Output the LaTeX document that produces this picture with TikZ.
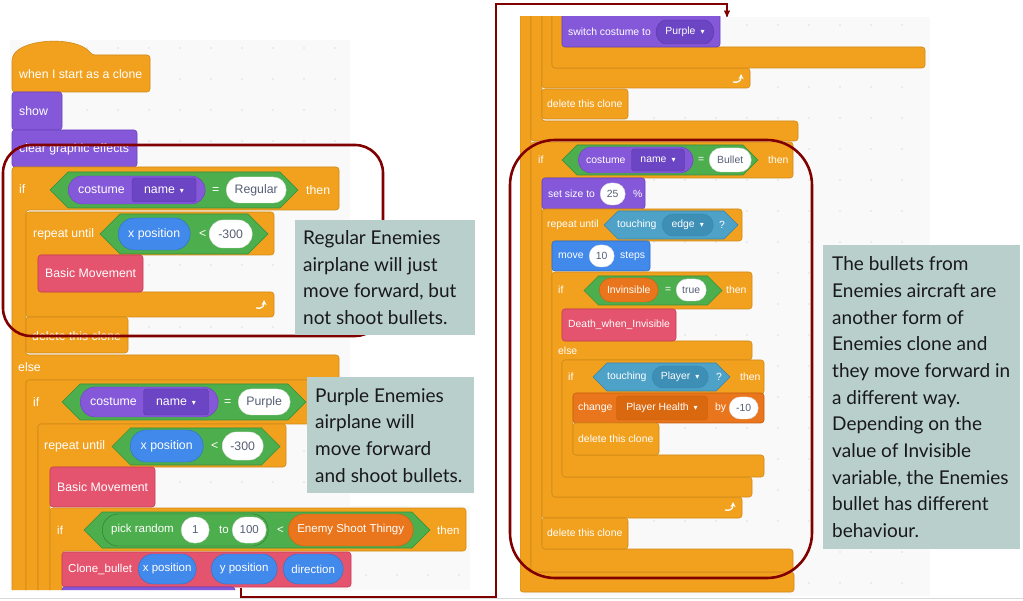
\documentclass[tikz,border=0pt]{standalone}
\usepackage{fontspec}
\setmainfont{Liberation Sans}
\newfontfamily\notefont{Lato}
\newfontfamily\symfont{DejaVu Sans}
\usetikzlibrary{positioning,shapes.misc,arrows}

\definecolor{ctrlFill}{HTML}{F2A11F}
\definecolor{ctrlEdge}{HTML}{CF8A17}
\definecolor{looksFill}{HTML}{8558DA}
\definecolor{looksEdge}{HTML}{6A42BD}
\definecolor{looksDark}{HTML}{6B45C4}
\definecolor{opFill}{HTML}{4DAE4D}
\definecolor{opEdge}{HTML}{389038}
\definecolor{motionFill}{HTML}{4189EB}
\definecolor{motionEdge}{HTML}{2F6DC6}
\definecolor{senseFill}{HTML}{4EA2C8}
\definecolor{senseEdge}{HTML}{3587AC}
\definecolor{senseDark}{HTML}{3D8FB6}
\definecolor{myFill}{HTML}{E5546F}
\definecolor{myEdge}{HTML}{C63C58}
\definecolor{varFill}{HTML}{E9761C}
\definecolor{varEdge}{HTML}{C65F12}
\definecolor{varDark}{HTML}{D9680F}
\definecolor{inkGray}{HTML}{575E75}
\definecolor{panelBg}{HTML}{F9F9F9}
\definecolor{noteFill}{HTML}{B8CFCC}
\definecolor{markRed}{HTML}{800000}

\tikzstyle{block}=[line width=0.6pt, rounded corners=3pt]
\tikzstyle{ctrlC}=[fill=ctrlFill, draw=ctrlEdge, text=white]
\tikzstyle{looksC}=[fill=looksFill, draw=looksEdge, text=white]
\tikzstyle{opC}=[fill=opFill, draw=opEdge, text=white]
\tikzstyle{motionC}=[fill=motionFill, draw=motionEdge, text=white]
\tikzstyle{myC}=[fill=myFill, draw=myEdge, text=white]
\tikzstyle{varC}=[fill=varFill, draw=varEdge, text=white]
\tikzstyle{senseDd}=[fill=senseDark, draw=senseEdge, text=white]
\tikzstyle{wpill}=[fill=white, draw=black!12, text=inkGray]
\tikzstyle{dropbox}=[rectangle, rounded corners=3pt, fill=looksDark, draw=looksEdge!85!black, text=white, inner sep=0pt]
\tikzstyle{vardrop}=[rectangle, rounded corners=3pt, fill=varDark, draw=varEdge, text=white, inner sep=0pt]
\tikzstyle{lbl}=[text=white, anchor=west, inner sep=0pt]
\tikzstyle{note}=[rectangle, fill=noteFill, inner sep=0pt]
\tikzstyle{notetext}=[align=left, inner sep=0pt, text=black!90, font=\notefont\fontsize{19}{26.7}\selectfont]
\tikzstyle{redbox}=[draw=markRed, line width=2.6pt]

\newcommand{\dd}{\hspace{5pt}{\symfont\fontsize{8}{8}\selectfont\char"25BE}}
\newcommand{\cond}[6]{\path[fill=#5, draw=#6, line width=0.6pt] (#1,{(#2+#4)/2}) -- ({#1+(#4-#2)/2},#2) -- ({#3-(#4-#2)/2},#2) -- (#3,{(#2+#4)/2}) -- ({#3-(#4-#2)/2},#4) -- ({#1+(#4-#2)/2},#4) -- cycle;}
\newcommand{\pill}[7]{\node[#6, rounded rectangle, anchor=west, minimum width=#4pt, minimum height=#5pt, inner sep=0pt] (#1) at (#2,#3) {#7};}
\newcommand{\looparr}[2]{\draw[white, line width=1.3pt, ->, >=stealth] ({#1-6},{#2+3}) .. controls ({#1-1},{#2+4}) and ({#1+2},{#2+2}) .. ({#1+2},{#2-5});}

\begin{document}
\begin{tikzpicture}[
        x=1pt, y=-1pt,
        line/.style={->, >=stealth', draw=markRed, line width=1.3pt},
      ]
      \useasboundingbox (0,0) rectangle (1023,601);
      \fill[white] (0,0) rectangle (1023,601);
      \draw[black!15, line width=0.6pt] (0,598) -- (1023,598);

      % left screenshot
      \begin{scope}[nodes={font=\fontsize{12.3}{14}\selectfont}]
      \clip (10,28) rectangle (350,506) (10,506) rectangle (470,590);
      \fill[panelBg] (10,40) rectangle (350,506) (10,506) rectangle (470,590);
      \foreach \gx in {25,56,...,470}
        \foreach \gy in {48,79,...,590}
          \fill[black!25] (\gx,\gy) circle (0.7pt);
      \path[block, ctrlC] (12,92) -- (12,58) .. controls (22,38) and (78,36) .. (92,55) -- (150,55) -- (150,92) -- cycle;
      \node[lbl] (hatTxt) at (19,74) {when I start as a clone};
      \path[block, looksC] (12,92) rectangle (62,130);
      \node[lbl] (showTxt) at (19,111) {show};
      \path[block, looksC] (12,130) rectangle (137,167);
      \node[lbl] (clearTxt) at (19,149) {clear graphic effects};
      % if / else
      \path[block, ctrlC] (12,167) -- (339,167) -- (339,210) -- (26,210) -- (26,355) -- (339,355) -- (339,380) -- (26,380) -- (26,600) -- (12,600) -- cycle;
      \node[lbl] (ifReg) at (19,189) {if};
      \cond{50}{172}{298}{208}{opFill}{opEdge}
      \pill{costReg}{68}{190}{137}{28}{looksC}{}
      \node[lbl] (costRegTxt) at (78,190) {costume};
      \node[dropbox, minimum width=64pt, minimum height=24pt] (nameReg) at (164,190) {name\dd};
      \node[lbl] (eqReg) at (212,190) {=};
      \pill{regVal}{226}{190}{60}{26}{wpill}{Regular}
      \node[lbl] (thenReg) at (306,190) {then};
      \path[block, ctrlC] (26,212) -- (274,212) -- (274,255) -- (38,255) -- (38,292) -- (274,292) -- (274,317) -- (26,317) -- cycle;
      \node[lbl] (repReg) at (33,234) {repeat until};
      \cond{100}{214}{268}{254}{opFill}{opEdge}
      \pill{xposReg}{118}{234}{72}{32}{motionC}{x position}
      \node[lbl] (ltReg) at (199,234) {<};
      \pill{limReg}{209}{234}{43}{28}{wpill}{-300}
      \path[block, myC] (38,255) rectangle (143,292);
      \node[lbl] (moveReg) at (45,273) {Basic Movement};
      \looparr{262}{305}
      \path[block, ctrlC] (26,317) rectangle (128,353);
      \node[lbl] (delReg) at (32,336) {delete this clone};
      \node[lbl] (elseTxt) at (18,367) {else};
      \path[block, ctrlC] (26,380) -- (340,380) -- (340,424) -- (38,424) -- (38,600) -- (26,600) -- cycle;
      \node[lbl] (ifPur) at (33,402) {if};
      \cond{62}{384}{306}{420}{opFill}{opEdge}
      \pill{costPur}{80}{402}{138}{30}{looksC}{}
      \node[lbl] (costPurTxt) at (90,402) {costume};
      \node[dropbox, minimum width=65pt, minimum height=26pt] (namePur) at (176,402) {name\dd};
      \node[lbl] (eqPur) at (224,402) {=};
      \pill{purVal}{238}{402}{52}{26}{wpill}{Purple}
      \path[block, ctrlC] (38,424) -- (286,424) -- (286,467) -- (50,467) -- (50,600) -- (38,600) -- cycle;
      \node[lbl] (repPur) at (44,446) {repeat until};
      \cond{112}{428}{280}{465}{opFill}{opEdge}
      \pill{xposPur}{130}{446}{73}{32}{motionC}{x position}
      \node[lbl] (ltPur) at (211,446) {<};
      \pill{limPur}{222}{446}{41}{28}{wpill}{-300}
      \path[block, myC] (50,467) rectangle (155,507);
      \node[lbl] (movePur) at (57,487) {Basic Movement};
      \begin{scope}[nodes={font=\fontsize{11.5}{13}\selectfont}]
      \path[block, ctrlC] (50,508) -- (466,508) -- (466,551) -- (62,551) -- (62,600) -- (50,600) -- cycle;
      \node[lbl] (ifRnd) at (57,530) {if};
      \cond{84}{512}{430}{548}{opFill}{opEdge}
      \pill{rnd}{102}{530}{166}{32}{opC, draw=opEdge!80!black}{}
      \node[lbl] (rndTxt) at (111,530) {pick random};
      \pill{rndLo}{181}{530}{28}{26}{wpill}{1}
      \node[lbl] (toTxt) at (219,530) {to};
      \pill{rndHi}{232}{530}{34}{26}{wpill}{100}
      \node[lbl] (ltRnd) at (277,530) {<};
      \pill{shootVar}{288}{530}{125}{32}{varC}{Enemy Shoot Thingy}
      \node[lbl] (thenRnd) at (437,530) {then};
      \path[block, myC] (62,552) rectangle (351,587);
      \node[lbl] (cloneTxt) at (68,569) {Clone\_bullet};
      \pill{cbX}{138}{569}{58}{30}{motionC}{x position}
      \pill{cbY}{211}{569}{66}{30}{motionC}{y position}
      \pill{cbDir}{283}{569}{60}{30}{motionC}{direction}
      \path[block, looksC] (62,587) rectangle (235,600);
      \end{scope}
      \end{scope}

      % right screenshot
      \begin{scope}[nodes={font=\fontsize{10.4}{12}\selectfont}]
      \clip (520,17) rectangle (930,596);
      \fill[panelBg] (520,17) rectangle (930,596);
      \foreach \gx in {530,561,...,930}
        \foreach \gy in {25,56,...,596}
          \fill[black!25] (\gx,\gy) circle (0.7pt);
      \path[block, ctrlC] (520,5) -- (531,5) -- (531,572) -- (794,572) -- (794,592) -- (520,592) -- cycle;
      \path[block, ctrlC] (531,5) -- (542,5) -- (542,121) -- (798,121) -- (798,141) -- (531,141) -- cycle;
      \path[block, ctrlC] (542,5) -- (552,5) -- (552,68) -- (750,68) -- (750,88) -- (542,88) -- cycle;
      \path[block, ctrlC] (552,5) -- (562,5) -- (562,47) -- (925,47) -- (925,68) -- (552,68) -- cycle;
      \path[block, myC] (575,8) rectangle (600,21);
      \path[block, looksC] (562,10) rectangle (720,47);
      \node[lbl] (swTxt) at (568,32) {switch costume to};
      \node[dropbox, rounded rectangle, minimum width=58pt, minimum height=24pt] (swVal) at (685,32) {Purple\dd};
      \looparr{739}{79}
      \path[block, ctrlC] (542,89) rectangle (628,119);
      \node[lbl] (delA) at (547,104) {delete this clone};
      \path[block, ctrlC] (531,142) -- (793,142) -- (793,178) -- (542,178) -- (542,549) -- (793,549) -- (793,572) -- (531,572) -- cycle;
      \node[lbl] (ifBul) at (538,160) {if};
      \cond{562}{145}{758}{175}{opFill}{opEdge}
      \pill{costBul}{578}{160}{115}{26}{looksC}{}
      \node[lbl] (costBulTxt) at (586,160) {costume};
      \node[dropbox, minimum width=53pt, minimum height=22pt] (nameBul) at (658,160) {name\dd};
      \node[lbl] (eqBul) at (698,160) {=};
      \pill{bulVal}{709}{160}{42}{24}{wpill}{Bullet}
      \node[lbl] (thenBul) at (768,160) {then};
      \path[block, looksC] (542,178) rectangle (645,209);
      \node[lbl] (sizeTxt) at (548,194) {set size to};
      \pill{sizeVal}{600}{194}{25}{22}{wpill}{25}
      \node[lbl] (pctTxt) at (633,194) {\%};
      \path[block, ctrlC] (542,209) -- (742,209) -- (742,241) -- (552,241) -- (552,497) -- (742,497) -- (742,518) -- (542,518) -- cycle;
      \node[lbl] (repBul) at (547,225) {repeat until};
      \cond{604}{211}{738}{239}{senseFill}{senseEdge}
      \node[lbl] (touchEdge) at (617,225) {touching};
      \pill{edgeVal}{662}{225}{51}{22}{senseDd}{edge\dd}
      \node[lbl] (qEdge) at (719,225) {?};
      \path[block, motionC] (552,241) rectangle (650,271);
      \node[lbl] (moveTxt) at (558,256) {move};
      \pill{stepVal}{589}{256}{25}{22}{wpill}{10}
      \node[lbl] (stepsTxt) at (620,256) {steps};
      \path[block, ctrlC] (552,272) -- (752,272) -- (752,309) -- (562,309) -- (562,341) -- (752,341) -- (752,360) -- (562,360) -- (562,477) -- (752,477) -- (752,497) -- (552,497) -- cycle;
      \node[lbl] (ifInv) at (558,290) {if};
      \cond{584}{276}{722}{305}{opFill}{opEdge}
      \pill{invVar}{599}{290}{59}{24}{varC}{Invinsible}
      \node[lbl] (eqInv) at (665,290) {=};
      \pill{invVal}{676}{290}{30}{22}{wpill}{true}
      \node[lbl] (thenInv) at (726,290) {then};
      \path[block, myC] (562,309) rectangle (676,341);
      \node[lbl] (deathTxt) at (568,325) {Death\_when\_Invisible};
      \node[lbl] (elseInv) at (558,351) {else};
      \path[block, ctrlC] (562,360) -- (764,360) -- (764,394) -- (573,394) -- (573,455) -- (764,455) -- (764,477) -- (562,477) -- cycle;
      \node[lbl] (ifPly) at (568,377) {if};
      \cond{593}{363}{730}{391}{senseFill}{senseEdge}
      \node[lbl] (touchPly) at (607,377) {touching};
      \pill{plyVal}{652}{377}{56}{22}{senseDd}{Player\dd}
      \node[lbl] (qPly) at (716,377) {?};
      \node[lbl] (thenPly) at (740,377) {then};
      \path[block, varC] (573,393) rectangle (764,423);
      \node[lbl] (chgTxt) at (578,408) {change};
      \node[vardrop, minimum width=91pt, minimum height=24pt] (hpVar) at (662,408) {Player Health\dd};
      \node[lbl] (byTxt) at (715,408) {by};
      \pill{hpVal}{729}{408}{29}{22}{wpill}{-10}
      \path[block, ctrlC] (573,423) rectangle (659,455);
      \node[lbl] (delB) at (578,439) {delete this clone};
      \looparr{731}{507}
      \path[block, ctrlC] (542,518) rectangle (628,549);
      \node[lbl] (delC) at (547,533) {delete this clone};
      \end{scope}

      % highlight frames
      \draw[redbox, rounded corners=28pt] (3,145) rectangle (383,336);
      \draw[redbox, rounded corners=45pt] (510,140) rectangle (812,578);

      % notes
      \node[note, anchor=north west, minimum width=180pt, minimum height=115pt] (regBox) at (295,220) {};
      \node[notetext, anchor=west] (regText) at ([xshift=8pt]regBox.west)
            {Regular Enemies\\airplane will just\\move forward, but\\not shoot bullets.};
      \node[note, anchor=north west, minimum width=167pt, minimum height=116pt] (purBox) at (307,377) {};
      \node[notetext, anchor=west] (purText) at ([xshift=8pt]purBox.west)
            {Purple Enemies\\airplane will\\move forward\\and shoot bullets.};
      \node[note, anchor=north west, minimum width=197pt, minimum height=304pt] (bulBox) at (823,245) {};
      \node[notetext, anchor=west] (bulText) at ([xshift=9pt]bulBox.west)
            {The bullets from\\Enemies aircraft are\\another form of\\Enemies clone and\\they move forward in\\a different way.\\Depending on the\\value of Invisible\\variable, the Enemies\\bullet has different\\behaviour.};

      % continuation
      \coordinate (contFrom) at (241,588);
      \coordinate (contTo) at (727,17);
      \draw [line] (contFrom) -- ++(0,9) -| ++(255,-593) -| (contTo);
    \end{tikzpicture}
\end{document}
